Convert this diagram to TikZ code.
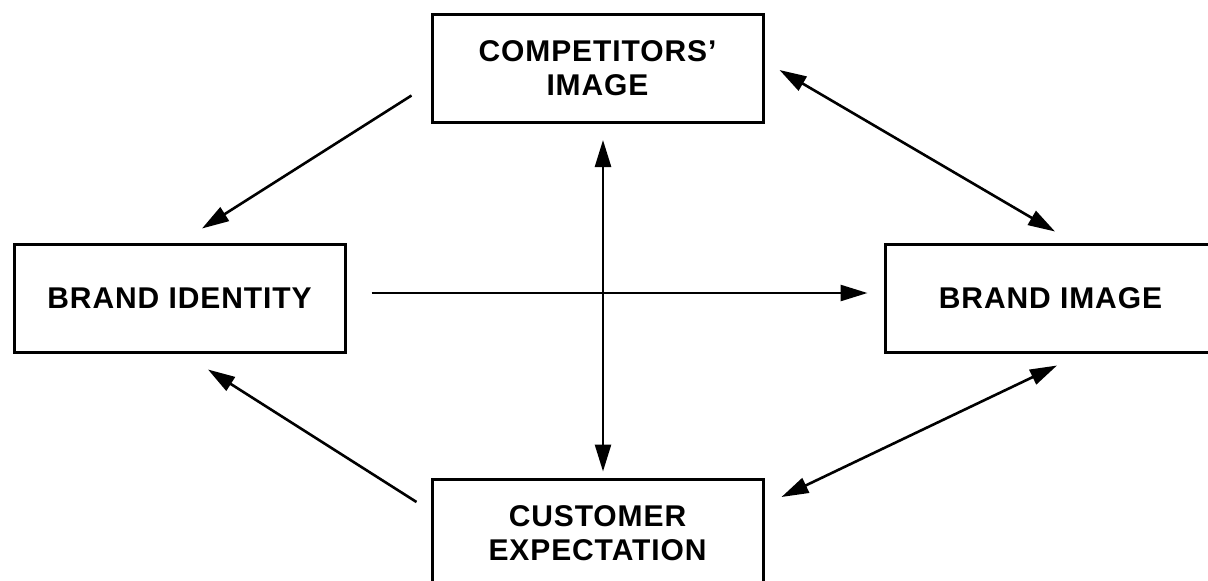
\documentclass[tikz,border=0pt]{standalone}
\usepackage{fontspec}
\setmainfont{Liberation Sans}
\newfontfamily\boxfont[LetterSpace=3]{Liberation Sans}
\usetikzlibrary{arrows.meta,positioning,calc}
\definecolor{inkblack}{HTML}{000000}
\definecolor{paperwhite}{HTML}{FFFFFF}

\begin{document}
\begin{tikzpicture}[
  x=1pt, y=-1pt,
  box/.style={
    draw=inkblack,
    fill=paperwhite,
    line width=3pt,
    minimum width=331pt,
    minimum height=108pt,
    inner sep=0pt,
    align=center,
    font={\boxfont\bfseries\fontsize{30}{34}\selectfont}
  },
  flow/.style={-{Triangle[length=27pt,width=16pt]},draw=inkblack,line width=2.6pt},
  twoway/.style={{Triangle[length=27pt,width=16pt]}-{Triangle[length=27pt,width=16pt]},draw=inkblack,line width=2.6pt}
]
  \path[fill=paperwhite,use as bounding box] (0,0) rectangle (1208,581);

  \node[box] (comp) at (597.5,68.5) {COMPETITORS’\\IMAGE};
  \node[box] (ident) at (179.5,298) {BRAND IDENTITY};
  \node[box] (bimg) at (1050.5,298) {BRAND IMAGE};
  \node[box] (cust) at (597.5,533) {CUSTOMER\\EXPECTATION};

  \draw[flow] ($(comp.west)+(-19,27)$) -- ($(ident.north)+(22.5,-14)$);
  \draw[flow] ($(cust.west)+(-14,-31)$) -- ($(ident.south)+(28.5,16)$);
  \draw[flow] ($(ident.east)+(25,-5)$) -- ($(bimg.west)+(-16,-5)$);
  \draw[twoway] ($(comp.south)+(5.5,16)$) -- ($(cust.north)+(5.5,-6)$);
  \draw[twoway] ($(comp.east)+(15,1.5)$) -- ($(bimg.north)+(4.5,-11)$);
  \draw[twoway] ($(cust.east)+(17,-36)$) -- ($(bimg.south)+(6.5,12)$);
\end{tikzpicture}
\end{document}
